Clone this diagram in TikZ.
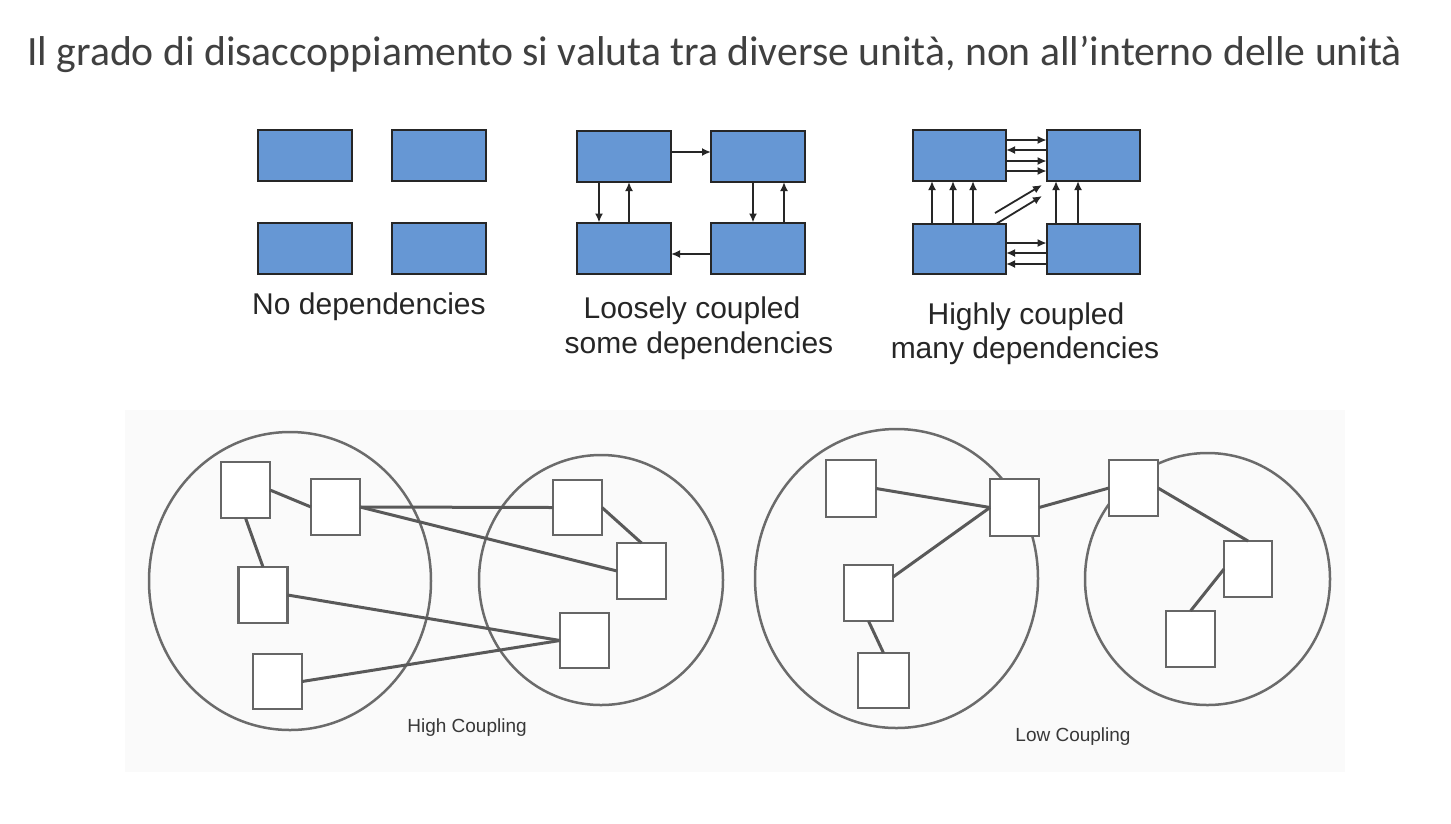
\documentclass[tikz,border=0pt]{standalone}
\usepackage{fontspec}
\setmainfont{Carlito}
\newfontfamily\arialf{Liberation Sans}
\usetikzlibrary{arrows.meta,shapes.geometric,calc}
\definecolor{boxblue}{RGB}{102,151,212}
\definecolor{titlegray}{RGB}{64,64,64}
\tikzset{
  bluebox/.style={draw=black!85, line width=2pt, fill=boxblue, inner sep=0pt, outer sep=0pt,
    minimum width=94pt, minimum height=51pt, anchor=north west},
  arr/.style={-{Latex[length=9pt,width=8pt]}, line width=1.8pt, draw=black!85},
  wbox/.style={draw=black!60, line width=2.5pt, fill=white, inner sep=0pt, outer sep=0pt,
    minimum width=49pt, minimum height=56pt, anchor=north west},
  link/.style={draw=black!65, line width=3pt},
  ring/.style={draw=black!58, line width=2.5pt, ellipse, inner sep=0pt, outer sep=0pt},
  lbl/.style={font=\arialf\fontsize{30}{36}\selectfont, anchor=base, text=black!85},
  caplabel/.style={font=\arialf\fontsize{19}{23}\selectfont, anchor=center, text=black!78},
}
\begin{document}
\begin{tikzpicture}[x=1pt,y=-1pt]
\useasboundingbox (0,0) rectangle (1451,823);
\fill[white] (0,0) rectangle (1451,823);
\fill[black!2] (125,410) rectangle (1345,772);

% title
\node[anchor=base west, font=\fontsize{41.7}{48}\selectfont, text=titlegray, inner sep=0pt] (title) at (27,65)
  {Il grado di disaccoppiamento si valuta tra diverse unità, non all’interno delle unità};

% group 1: no dependencies
\node[bluebox] (n1) at (257.7,130) {};
\node[bluebox] (n2) at (391.7,130) {};
\node[bluebox] (n3) at (257.7,222.7) {};
\node[bluebox] (n4) at (391.7,222.7) {};
\node[lbl] (l1) at (369,314) {No dependencies};

% group 2: loosely coupled
\node[bluebox] (m1) at (577,131) {};
\node[bluebox] (m2) at (711,131) {};
\node[bluebox] (m3) at (577,222.5) {};
\node[bluebox] (m4) at (711,222.5) {};
\draw[arr] (m1.east |- 0,152) -- (m2.west |- 0,152);
\draw[arr] (m1.south -| 599,0) -- (m3.north -| 599,0);
\draw[arr] (m3.north -| 629,0) -- (m1.south -| 629,0);
\draw[arr] (m2.south -| 753,0) -- (m4.north -| 753,0);
\draw[arr] (m4.north -| 784,0) -- (m2.south -| 784,0);
\draw[arr] (m4.west |- 0,254) -- (m3.east |- 0,254);
\node[lbl] (l2a) at (692,318) {Loosely coupled};
\node[lbl] (l2b) at (699,353) {some dependencies};

% group 3: highly coupled
\node[bluebox, minimum width=93.3pt] (h1) at (912.7,130) {};
\node[bluebox, minimum width=93.3pt] (h2) at (1046.7,130) {};
\node[bluebox, minimum width=93.3pt, minimum height=50pt] (h3) at (912.7,224) {};
\node[bluebox, minimum width=93.3pt, minimum height=50pt] (h4) at (1046.7,224) {};
\draw[arr] (h1.east |- 0,140) -- (h2.west |- 0,140);
\draw[arr] (h2.west |- 0,150) -- (h1.east |- 0,150);
\draw[arr] (h1.east |- 0,161) -- (h2.west |- 0,161);
\draw[arr] (h1.east |- 0,171) -- (h2.west |- 0,171);
\draw[arr] (h3.north -| 932,0) -- (h1.south -| 932,0);
\draw[arr] (h3.north -| 953,0) -- (h1.south -| 953,0);
\draw[arr] (h3.north -| 973,0) -- (h1.south -| 973,0);
\draw[arr] (h4.north -| 1056,0) -- (h2.south -| 1056,0);
\draw[arr] (h4.north -| 1078,0) -- (h2.south -| 1078,0);
\coordinate (d1s) at (995,213);
\coordinate (d1e) at (1042,185);
\coordinate (d2e) at (1042,196);
\draw[arr] (d1s) -- (d1e);
\draw[arr] (h3.north -| 996,0) -- (d2e);
\draw[arr] (h3.east |- 0,243) -- (h4.west |- 0,243);
\draw[arr] (h4.west |- 0,253) -- (h3.east |- 0,253);
\draw[arr] (h4.west |- 0,264) -- (h3.east |- 0,264);
\node[lbl] (l3a) at (1026,324) {Highly coupled};
\node[lbl] (l3b) at (1025,358) {many dependencies};

% high coupling
\node[ring, minimum width=282pt, minimum height=298pt] (e1) at (290,581) {};
\node[ring, minimum width=244pt, minimum height=250pt] (e2) at (601,580) {};
\node[wbox] (A) at (221,462) {};
\node[wbox] (B) at (311,479) {};
\node[wbox] (C) at (238.5,567) {};
\node[wbox, minimum height=55pt] (D) at (253,654) {};
\node[wbox, minimum height=55pt] (E) at (553,480) {};
\node[wbox] (F) at (617,543) {};
\node[wbox, minimum height=55pt] (G) at (560,613) {};
\draw[link] (A.east) -- (B.west);
\draw[link] (A.south) -- (C.north);
\draw[link] (B.east) -- (E.west);
\draw[link] (B.east) -- (F.west);
\draw[link] (E.east) -- (F.north);
\draw[link] (C.east) -- (G.west);
\draw[link] (D.east) -- (G.west);
\node[caplabel] (hc) at (467,728) {High Coupling};

% low coupling
\node[ring, minimum width=283pt, minimum height=299pt] (e3) at (896.5,578.5) {};
\node[ring, minimum width=245pt, minimum height=252pt] (e4) at (1207.5,579) {};
\node[wbox, minimum width=50pt, minimum height=57pt] (H) at (826,460) {};
\node[wbox, minimum height=57pt] (I) at (990,479) {};
\node[wbox] (J) at (844,565) {};
\node[wbox, minimum width=51pt, minimum height=55pt] (K) at (858,653) {};
\node[wbox] (L) at (1109,460) {};
\node[wbox, minimum width=48pt] (M) at (1224,541) {};
\node[wbox] (N) at (1166,611) {};
\draw[link] (H.east) -- (I.west);
\draw[link] (J.east |- 0,577) -- (I.west);
\draw[link] (J.south) -- (K.north);
\draw[link] (I.east) -- (L.west);
\draw[link] (L.east) -- (M.north);
\draw[link] (M.west) -- (N.north);
\node[caplabel] (lc) at (1073,737) {Low Coupling};
\end{tikzpicture}
\end{document}
